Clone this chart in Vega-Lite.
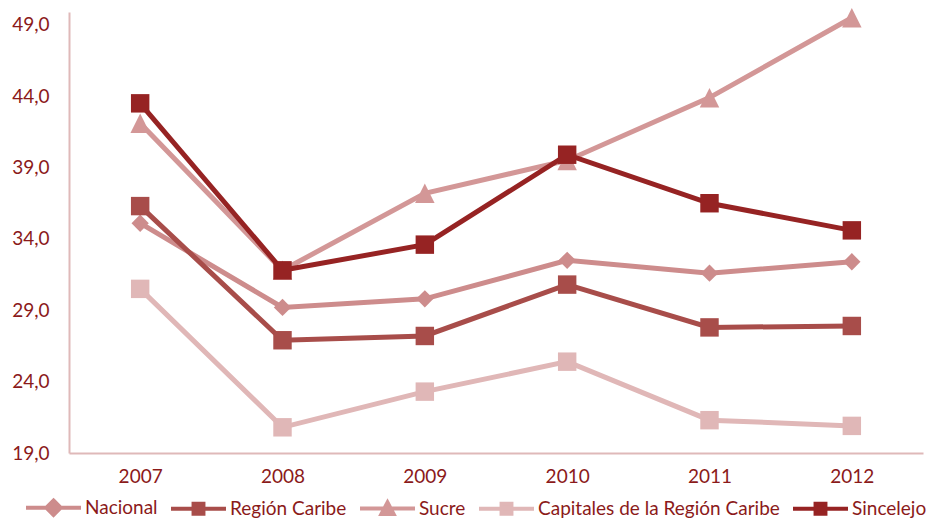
{
  "$schema": "https://vega.github.io/schema/vega-lite/v6.json",
  "autosize": {"type": "none"},
  "width": 854,
  "height": 441,
  "padding": {"left": 69, "top": 12, "right": 12, "bottom": 67},
  "background": "white",
  "config": {
    "view": {"stroke": null},
    "font": "Lato",
    "axis": {"grid": false, "domainColor": "#dfb9b9", "domainWidth": 2, "ticks": false, "labelColor": "#8b1a1a", "labelFont": "Lato", "labelFontSize": 19, "title": null}
  },
  "data": {"values": [
    {"year": "2007", "serie": "Nacional", "v": 35.1},
    {"year": "2008", "serie": "Nacional", "v": 29.2},
    {"year": "2009", "serie": "Nacional", "v": 29.8},
    {"year": "2010", "serie": "Nacional", "v": 32.5},
    {"year": "2011", "serie": "Nacional", "v": 31.6},
    {"year": "2012", "serie": "Nacional", "v": 32.4},
    {"year": "2007", "serie": "Región Caribe", "v": 36.3},
    {"year": "2008", "serie": "Región Caribe", "v": 26.9},
    {"year": "2009", "serie": "Región Caribe", "v": 27.2},
    {"year": "2010", "serie": "Región Caribe", "v": 30.8},
    {"year": "2011", "serie": "Región Caribe", "v": 27.8},
    {"year": "2012", "serie": "Región Caribe", "v": 27.9},
    {"year": "2007", "serie": "Sucre", "v": 42.1},
    {"year": "2008", "serie": "Sucre", "v": 31.8},
    {"year": "2009", "serie": "Sucre", "v": 37.2},
    {"year": "2010", "serie": "Sucre", "v": 39.5},
    {"year": "2011", "serie": "Sucre", "v": 43.9},
    {"year": "2012", "serie": "Sucre", "v": 49.5},
    {"year": "2007", "serie": "Capitales de la Región Caribe", "v": 30.5},
    {"year": "2008", "serie": "Capitales de la Región Caribe", "v": 20.8},
    {"year": "2009", "serie": "Capitales de la Región Caribe", "v": 23.3},
    {"year": "2010", "serie": "Capitales de la Región Caribe", "v": 25.4},
    {"year": "2011", "serie": "Capitales de la Región Caribe", "v": 21.3},
    {"year": "2012", "serie": "Capitales de la Región Caribe", "v": 20.9},
    {"year": "2007", "serie": "Sincelejo", "v": 43.5},
    {"year": "2008", "serie": "Sincelejo", "v": 31.8},
    {"year": "2009", "serie": "Sincelejo", "v": 33.6},
    {"year": "2010", "serie": "Sincelejo", "v": 39.9},
    {"year": "2011", "serie": "Sincelejo", "v": 36.5},
    {"year": "2012", "serie": "Sincelejo", "v": 34.6}
  ]},
  "encoding": {
    "x": {"field": "year", "type": "ordinal", "scale": {"type": "point", "padding": 0.5}, "axis": {"labelAngle": 0, "labelPadding": 14}},
    "y": {"field": "v", "type": "quantitative", "scale": {"domain": [19, 49.9], "nice": false, "zero": false}, "axis": {"values": [19, 24, 29, 34, 39, 44, 49], "labelExpr": "replace(format(datum.value, '.1f'), '.', ',')", "labelPadding": 20}},
    "color": {"field": "serie", "type": "nominal", "scale": {
      "domain": ["Nacional", "Región Caribe", "Sucre", "Capitales de la Región Caribe", "Sincelejo"],
      "range": ["#cd8c8c", "#a84d4a", "#d39797", "#e0b7b7", "#962323"]}}
  },
  "layer": [
    {
      "mark": {"type": "line", "strokeWidth": 5},
      "encoding": {
        "color": {"field": "serie", "type": "nominal", "legend": {
          "orient": "none", "legendX": -45, "legendY": 466, "direction": "horizontal", "title": null,
          "symbolSize": 3025, "labelFont": "Lato", "labelFontSize": 19, "labelColor": "#8b1a1a", "labelOffset": 2, "columnPadding": 5, "labelLimit": 0,
          "encode": {"symbols": {"update": {
            "shape": {"signal": "datum.value == 'Nacional' ? 'M-1,0H1M0,-0.26L0.26,0L0,0.26L-0.26,0Z' : datum.value == 'Sucre' ? 'M-1,0H1M0,-0.22L0.22,0.2H-0.22Z' : 'M-1,0H1M-0.18,-0.18H0.18V0.18H-0.18Z'"},
            "fill": {"scale": "color", "field": "value"},
            "stroke": {"scale": "color", "field": "value"},
            "strokeWidth": {"value": 4},
            "opacity": {"value": 1},
            "fillOpacity": {"value": 1}
          }}}
        }}
      }
    },
    {
      "transform": [{"filter": "datum.serie == 'Nacional'"}],
      "mark": {"type": "point", "shape": "diamond", "filled": true, "opacity": 1, "size": 300},
      "encoding": {"color": {"field": "serie", "type": "nominal", "legend": null}}
    },
    {
      "transform": [{"filter": "datum.serie == 'Región Caribe'"}],
      "mark": {"type": "point", "shape": "square", "filled": true, "opacity": 1, "size": 340},
      "encoding": {"color": {"field": "serie", "type": "nominal", "legend": null}}
    },
    {
      "transform": [{"filter": "datum.serie == 'Sucre'"}],
      "mark": {"type": "point", "shape": "M0,-1L1,1L-1,1Z", "filled": true, "opacity": 1, "size": 380},
      "encoding": {"color": {"field": "serie", "type": "nominal", "legend": null}}
    },
    {
      "transform": [{"filter": "datum.serie == 'Capitales de la Región Caribe'"}],
      "mark": {"type": "point", "shape": "square", "filled": true, "opacity": 1, "size": 340},
      "encoding": {"color": {"field": "serie", "type": "nominal", "legend": null}}
    },
    {
      "transform": [{"filter": "datum.serie == 'Sincelejo'"}],
      "mark": {"type": "point", "shape": "square", "filled": true, "opacity": 1, "size": 340},
      "encoding": {"color": {"field": "serie", "type": "nominal", "legend": null}}
    }
  ]
}
